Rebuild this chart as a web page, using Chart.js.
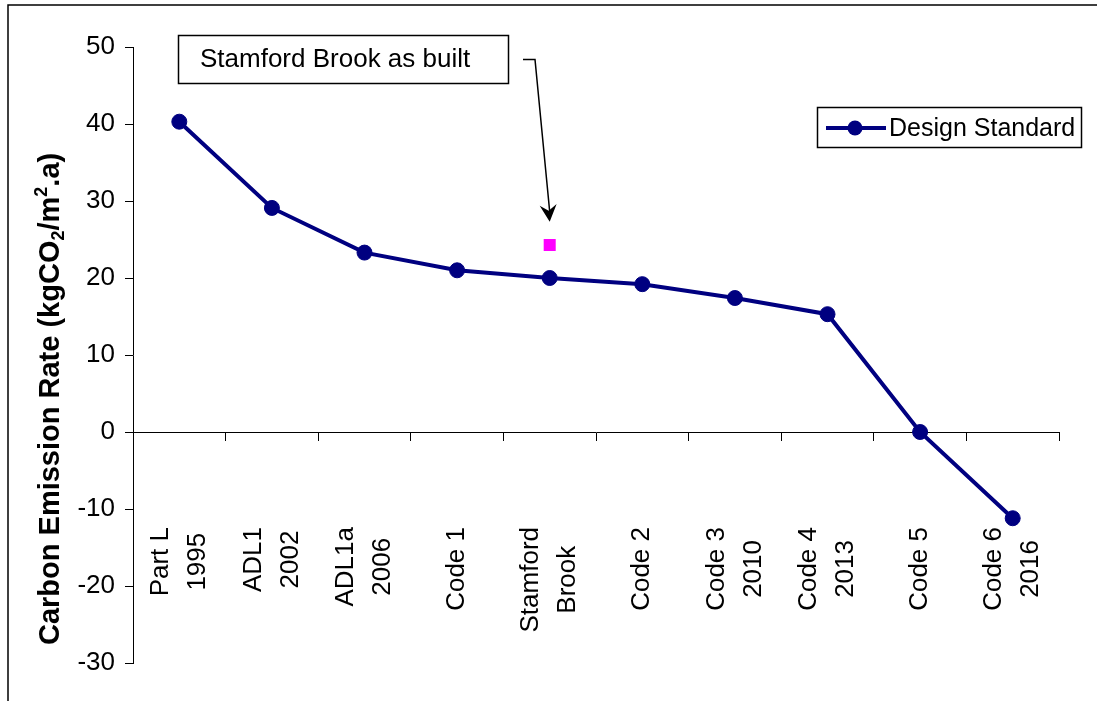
<!DOCTYPE html>
<html>
<head>
<meta charset="utf-8">
<title>Carbon Emission Rate</title>
<script src="https://cdn.jsdelivr.net/npm/chart.js@4.4.1/dist/chart.umd.min.js"></script>
<style>
    html, body { margin: 0; padding: 0; background: #FFFFFF; }
    #wrap { position: relative; width: 1097px; height: 701px; }
</style>
</head>
<body>
<div id="wrap"><canvas id="emissionChart"></canvas></div>
<script>
"use strict";

// Categories (multi-line)
const categories = [
    ["Part L", "1995"],
    ["ADL1", "2002"],
    ["ADL1a", "2006"],
    ["Code 1"],
    ["Stamford", "Brook"],
    ["Code 2"],
    ["Code 3", "2010"],
    ["Code 4", "2013"],
    ["Code 5"],
    ["Code 6", "2016"]
];

// Design standard emission rate, kgCO2/m2.a
const designStandard = [40.3, 29.1, 23.3, 21.0, 20.0, 19.2, 17.4, 15.3, 0.0, -11.2];

// Single "as built" measurement for Stamford Brook
const asBuilt = [null, null, null, null, 24.3, null, null, null, null, null];

const yMin = -30;
const yMax = 50;
const yStep = 10;

const FONT = "'Liberation Sans', Arial, sans-serif";
const NAVY = "#000080";

/**
 * Draws the frame, rotated axis title, category labels,
 * the call-out box with its arrow and the boxed legend.
 */
const decorations = {
    id: "decorations",
    afterDraw(chart) {
        const { ctx, scales: { x, y } } = chart;
        ctx.save();

        // outer frame (left and top edges only)
        ctx.strokeStyle = "#000000";
        ctx.lineWidth = 1.5;
        ctx.beginPath();
        ctx.moveTo(8, chart.height);
        ctx.lineTo(8, 5);
        ctx.lineTo(chart.width, 5);
        ctx.stroke();

        // category labels, rotated, lines centred on each other
        ctx.fillStyle = "#000000";
        ctx.font = "26px " + FONT;
        ctx.textAlign = "center";
        ctx.textBaseline = "middle";
        const labelTop = y.getPixelForValue(0) + 95;
        const pitch = 37;
        categories.forEach((lines, i) => {
            const px = x.getPixelForValue(i);
            const maxW = Math.max(...lines.map(t => ctx.measureText(t).width));
            const cy = labelTop + maxW / 2;
            lines.forEach((t, j) => {
                const lx = px + (j - (lines.length - 1) / 2) * pitch;
                ctx.save();
                ctx.translate(lx, cy);
                ctx.rotate(-Math.PI / 2);
                ctx.fillText(t, 0, 0);
                ctx.restore();
            });
        });

        // y axis title with sub- and superscript
        const parts = [
            ["Carbon Emission Rate (kgCO", 0],
            ["2", 1],
            ["/m", 0],
            ["2", -1],
            [".a)", 0]
        ];
        ctx.save();
        ctx.translate(49, 645);
        ctx.rotate(-Math.PI / 2);
        ctx.textAlign = "left";
        ctx.textBaseline = "alphabetic";
        let tx = 0;
        parts.forEach(([t, shift]) => {
            ctx.font = (shift ? "bold 18px " : "bold 29px ") + FONT;
            const dy = shift === 1 ? 5 : (shift === -1 ? -12 : 0);
            ctx.fillText(t, tx, 10 + dy);
            tx += ctx.measureText(t).width;
        });
        ctx.restore();

        // call-out box
        ctx.lineWidth = 1.5;
        ctx.strokeRect(178.5, 35.5, 330, 48);
        ctx.font = "26px " + FONT;
        ctx.textAlign = "left";
        ctx.textBaseline = "middle";
        ctx.fillText("Stamford Brook as built", 200, 60);

        // arrow pointing at the as-built point
        const tipX = x.getPixelForValue(4);
        const tipY = y.getPixelForValue(27.3);
        ctx.lineWidth = 1.5;
        ctx.beginPath();
        ctx.moveTo(523, 59.5);
        ctx.lineTo(535, 59.5);
        ctx.lineTo(tipX, tipY - 10);
        ctx.stroke();
        const ang = Math.atan2(tipY - 59.5, tipX - 535);
        ctx.save();
        ctx.translate(tipX, tipY);
        ctx.rotate(ang);
        ctx.beginPath();
        ctx.moveTo(0, 0);
        ctx.lineTo(-17, -8.5);
        ctx.lineTo(-11, 0);
        ctx.lineTo(-17, 8.5);
        ctx.closePath();
        ctx.fill();
        ctx.restore();

        // legend box
        const ds = chart.data.datasets[0];
        ctx.lineWidth = 1.5;
        ctx.strokeRect(817.5, 107.5, 264, 40);
        ctx.strokeStyle = ds.borderColor;
        ctx.lineWidth = ds.borderWidth;
        ctx.beginPath();
        ctx.moveTo(826, 128);
        ctx.lineTo(886, 128);
        ctx.stroke();
        ctx.fillStyle = ds.pointBackgroundColor;
        ctx.beginPath();
        ctx.arc(855, 128, ds.pointRadius, 0, Math.PI * 2);
        ctx.fill();
        ctx.fillStyle = "#000000";
        ctx.font = "25px " + FONT;
        ctx.fillText(ds.label, 889, 129);

        ctx.restore();
    }
};

new Chart(document.getElementById("emissionChart"), {
    type: "line",
    data: {
        labels: categories.map(c => c.join(" ")),
        datasets: [
            {
                label: "Design Standard",
                data: designStandard,
                borderColor: NAVY,
                backgroundColor: NAVY,
                pointBackgroundColor: NAVY,
                pointBorderColor: NAVY,
                borderWidth: 4,
                pointRadius: 7.5,
                pointBorderWidth: 1,
                tension: 0
            },
            {
                label: "Stamford Brook as built",
                data: asBuilt,
                showLine: false,
                pointStyle: "rect",
                pointRadius: 8.5,
                pointBorderWidth: 0,
                backgroundColor: "#FF00FF",
                borderColor: "#FF00FF"
            }
        ]
    },
    options: {
        responsive: true,
        maintainAspectRatio: false,
        animation: false,
        layout: {
            padding: { left: 0, top: 47, right: 38, bottom: 38 }
        },
        plugins: {
            legend: { display: false },
            tooltip: { enabled: false }
        },
        scales: {
            x: {
                type: "category",
                position: { y: 0 },
                offset: true,
                grid: {
                    offset: true,
                    drawOnChartArea: false,
                    drawTicks: true,
                    tickLength: 8,
                    color: "#000000"
                },
                border: { color: "#000000", width: 1 },
                ticks: { display: false }
            },
            y: {
                min: yMin,
                max: yMax,
                afterFit(scale) {
                    scale.width = 133;
                },
                grid: {
                    drawOnChartArea: false,
                    tickLength: 8,
                    color: "#000000"
                },
                border: { color: "#000000", width: 1 },
                ticks: {
                    stepSize: yStep,
                    padding: 10,
                    color: "#000000",
                    font: { family: FONT, size: 26 }
                }
            }
        }
    },
    plugins: [decorations]
});
</script>
</body>
</html>
